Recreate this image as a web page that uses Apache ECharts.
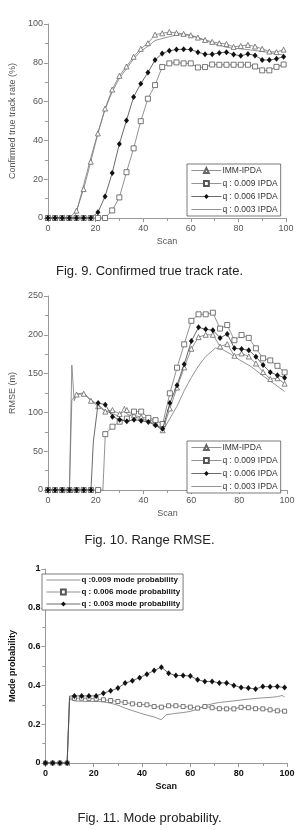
<!DOCTYPE html>
<html>
<head>
<meta charset="utf-8">
<script src="https://cdn.jsdelivr.net/npm/echarts@6/dist/echarts.min.js"></script>
<style>
  html, body { margin: 0; padding: 0; background: #fff; }
  #chart { width: 299px; height: 830px; }
</style>
</head>
<body>
<div id="chart"></div>
<script>
// Fig. 9 - confirmed true track rate (%), [scan, value]
const trackImm = [[0,0],[3,0],[6,0],[9,0],[12,3.8],[15,14.9],[18,29],[21,43.6],[24,56.4],[27,66.2],[30,73.3],[33,78.1],[36,83.1],[39,87.2],[42,90.1],[45,94.5],[48,95.2],[51,95.9],[54,95.4],[57,94.9],[60,94.2],[63,93.0],[66,91.8],[69,90.8],[72,90.1],[75,89.7],[78,88.2],[81,88.7],[84,89.2],[87,88.4],[90,87.2],[93,85.8],[96,85.5],[99,86.8]]
const trackQ009 = [[0,0],[3,0],[6,0],[9,0],[12,0],[15,0],[18,0],[21,0],[24,0],[27,3.9],[30,10.6],[33,23.6],[36,35.9],[39,49.9],[42,61.5],[45,68.5],[48,77.8],[51,79.7],[54,80.2],[57,79.7],[60,79.7],[63,77.6],[66,77.8],[69,79.1],[72,79.0],[75,79.0],[78,79.0],[81,79.0],[84,79.0],[87,78.1],[90,76.1],[93,76.1],[96,77.9],[99,79.1]]
const trackQ006 = [[0,0],[3,0],[6,0],[9,0],[12,0],[15,0],[18,0],[21,2.9],[24,11.1],[27,23.2],[30,38.1],[33,50.3],[36,62.4],[39,69.2],[42,75.0],[45,81.4],[48,84.8],[51,86.2],[54,86.8],[57,87.0],[60,86.8],[63,85.5],[66,84.4],[69,84.4],[72,85.1],[75,85.5],[78,84.3],[81,83.6],[84,84.6],[87,83.8],[90,81.5],[93,81.4],[96,82.1],[99,83.1]]
const trackQ003 = [[0,0],[9,0],[11,0],[12,3],[15,17],[18,31],[21,44],[24,56],[27,65],[30,72],[33,77],[36,82],[39,86],[42,88.5],[45,91.5],[48,92.5],[51,93.5],[54,94.3],[57,94.5],[60,94],[63,92.8],[66,91.5],[69,90.2],[72,89],[75,88],[78,87.5],[81,87.2],[84,86.8],[87,86.3],[90,85.8],[93,85.3],[96,84.6],[99,84]]

// Fig. 10 - range RMSE (m)
const rmseImm = [[0,0],[3,0],[6,0],[9,0],[10,116],[12,123],[15,124],[18,115],[21,108],[24,101],[27,103],[30,98],[33,103],[36,96],[39,94],[42,92],[45,86],[48,77],[51,105],[54,132],[57,158],[60,182],[63,197],[66,200],[69,200],[72,185],[75,188],[78,173],[81,176],[84,172],[87,163],[90,152],[93,143],[96,144],[99,137]]
const rmseQ009 = [[0,0],[3,0],[6,0],[9,0],[12,0],[15,0],[18,0],[21,0],[23,0],[24,72],[27,81.6],[30,88],[33,92],[36,101],[39,101],[42,93],[45,90],[48,85],[51,124.6],[54,157.6],[57,187.7],[60,218],[63,226.4],[66,226.4],[69,228.5],[72,208],[75,212.6],[78,193],[81,199.7],[84,196],[87,182.6],[90,169.7],[93,167],[96,160],[99,151.6]]
const rmseQ006 = [[0,0],[3,0],[6,0],[9,0],[12,0],[15,0],[18,0],[19,62],[21,112],[24,110],[27,94.5],[30,90.6],[33,88.5],[36,90.6],[39,89.3],[42,87.6],[45,83.3],[48,79],[51,112],[54,135],[57,162],[60,192],[63,209.6],[66,207],[69,206],[72,196],[75,201],[78,182.6],[81,181.7],[84,180],[87,171.8],[90,161],[93,151.6],[96,148],[99,144.7]]
const rmseQ003 = [[0,0],[9,0],[10,161],[11,115],[12,124],[15,125],[18,116],[21,110],[24,102],[27,98],[30,95],[32,108],[33,98],[36,94],[39,92],[42,89],[45,84],[48,76],[51,92],[54,108],[57,128],[60,145],[63,160],[66,172],[69,180],[70,183],[73,181],[76,176],[80,168],[85,159],[90,147],[95,136],[99,127]]

// Fig. 11 - mode probability
const modeQ009 = [[0,0],[9,0],[10,0.33],[12,0.32],[15,0.318],[18,0.317],[21,0.317],[24,0.316],[27,0.308],[30,0.298],[33,0.283],[36,0.27],[39,0.258],[42,0.247],[45,0.237],[48,0.223],[50,0.249],[54,0.256],[57,0.26],[60,0.266],[63,0.278],[66,0.295],[69,0.305],[72,0.312],[75,0.316],[78,0.32],[81,0.325],[84,0.329],[87,0.333],[90,0.336],[93,0.338],[96,0.342],[98,0.348],[99,0.34]]
const modeQ006 = [[0,0],[3,0],[6,0],[9,0],[10,0.335],[12,0.334],[15,0.334],[18,0.333],[21,0.33],[24,0.326],[27,0.322],[30,0.317],[33,0.312],[36,0.305],[39,0.302],[42,0.3],[45,0.291],[48,0.288],[51,0.295],[54,0.295],[57,0.291],[60,0.288],[63,0.283],[66,0.291],[69,0.285],[72,0.28],[75,0.279],[78,0.279],[81,0.287],[84,0.285],[87,0.28],[90,0.279],[93,0.274],[96,0.269],[99,0.267]]
const modeQ003 = [[0,0],[3,0],[6,0],[9,0],[10,0.345],[12,0.346],[15,0.346],[18,0.346],[21,0.346],[24,0.36],[27,0.372],[30,0.386],[33,0.412],[36,0.424],[39,0.44],[42,0.458],[45,0.477],[48,0.494],[51,0.463],[54,0.451],[57,0.451],[60,0.448],[63,0.429],[66,0.42],[69,0.42],[72,0.413],[75,0.413],[78,0.40],[81,0.389],[84,0.386],[87,0.382],[90,0.394],[93,0.393],[96,0.394],[99,0.389]]

const legendTrack = ['IMM-IPDA', 'q : 0.009 IPDA', 'q : 0.006 IPDA', 'q : 0.003 IPDA']
const legendMode = ['q :0.009 mode probability', 'q : 0.006 mode probability', 'q : 0.003 mode probability']
const captions = ['Fig. 9. Confirmed true track rate.', 'Fig. 10. Range RMSE.', 'Fig. 11. Mode probability.']

// markers only every third scan (Origin style marker skip)
function pts(arr) {
  return arr.map(([x, y]) => (x % 3 === 0 ? [x, y] : { value: [x, y], symbol: 'none' }))
}

const FONT = '"Liberation Sans", Arial, sans-serif'
const NARROW = '"Liberation Sans Narrow", "Liberation Sans", Arial, sans-serif'
const grey = '#555'

function triSeries(name, data, idx) {
  return {
    name, type: 'line', xAxisIndex: idx, yAxisIndex: idx, data: pts(data),
    symbol: 'triangle', symbolSize: 5, z: 3,
    lineStyle: { color: '#777', width: 0.8 },
    itemStyle: { color: '#fff', borderColor: '#666', borderWidth: 0.8 },
  }
}
function sqSeries(name, data, idx, size) {
  return {
    name, type: 'line', xAxisIndex: idx, yAxisIndex: idx, data: pts(data),
    symbol: 'rect', symbolSize: size || 5, z: 3,
    lineStyle: { color: '#777', width: 0.8 },
    itemStyle: { color: '#fff', borderColor: '#555', borderWidth: 0.8 },
  }
}
function diaSeries(name, data, idx) {
  return {
    name, type: 'line', xAxisIndex: idx, yAxisIndex: idx, data: pts(data),
    symbol: 'diamond', symbolSize: [5, 6], z: 5,
    lineStyle: { color: '#444', width: 0.8 },
    itemStyle: { color: '#111' },
  }
}
// plain line: transparent item colour so the legend shows only the stroke
function plainSeries(name, data, idx) {
  return {
    name, type: 'line', xAxisIndex: idx, yAxisIndex: idx, data,
    symbol: 'none', z: 2,
    lineStyle: { color: '#777', width: 0.8 },
    itemStyle: { color: 'rgba(0,0,0,0)', borderWidth: 0 },
  }
}

function xAxis(idx, bold) {
  const c = bold ? '#111' : grey
  const w = bold ? 'bold' : 'normal'
  return {
    type: 'value', gridIndex: idx, min: 0, max: 100, interval: 20,
    name: 'Scan', nameLocation: 'middle', nameGap: 19,
    nameTextStyle: { fontFamily: FONT, fontSize: 9, color: c, fontWeight: w },
    axisLine: { lineStyle: { color: '#999', width: 1 } },
    axisTick: { length: 4, lineStyle: { color: '#999' } },
    minorTick: { show: true, splitNumber: 2, length: 3, lineStyle: { color: '#999' } },
    axisLabel: { fontFamily: FONT, fontSize: 9, color: c, fontWeight: w, margin: 6 },
    splitLine: { show: false },
  }
}
function yAxis(idx, name, max, interval, gap, bold) {
  const c = bold ? '#111' : grey
  const w = bold ? 'bold' : 'normal'
  return {
    type: 'value', gridIndex: idx, min: 0, max, interval,
    name, nameLocation: 'middle', nameGap: gap,
    nameTextStyle: { fontFamily: FONT, fontSize: 9, color: c, fontWeight: w },
    axisLine: { show: true, lineStyle: { color: '#999', width: 1 } },
    axisTick: { show: true, length: 4, lineStyle: { color: '#999' } },
    minorTick: { show: true, splitNumber: 2, length: 3, lineStyle: { color: '#999' } },
    axisLabel: { fontFamily: FONT, fontSize: 9, color: c, fontWeight: w, margin: 5 },
    splitLine: { show: false },
  }
}
function legendBox(names, left, top, bold, w) {
  return {
    data: names, orient: 'vertical', left, top,
    itemWidth: w, itemHeight: 6, itemGap: 4,
    padding: [2, 3, 2, 4],
    borderColor: '#444', borderWidth: 0.7, backgroundColor: '#fff',
    selectedMode: false,
    lineStyle: { width: 0.8 },
    textStyle: {
      fontFamily: bold ? NARROW : FONT, fontSize: bold ? 8 : 8.5,
      color: bold ? '#111' : '#333', fontWeight: bold ? 'bold' : 'normal',
      padding: [0, 0, 0, -4],
    },
  }
}

const chart = echarts.init(document.getElementById('chart'), null, { renderer: 'canvas' })
chart.setOption({
  animation: false,
  backgroundColor: '#fff',
  title: captions.map((t, i) => ({
    text: t, left: 'center', top: [260, 529, 807][i],
    textStyle: { fontFamily: FONT, fontSize: 13, fontWeight: 'normal', color: '#222' },
  })),
  grid: [
    { left: 34, top: 24, width: 252, height: 194 },
    { left: 34, top: 296, width: 253, height: 194 },
    { left: 29, top: 569, width: 258, height: 194 },
  ],
  xAxis: [xAxis(0), xAxis(1), xAxis(2, true)],
  yAxis: [
    yAxis(0, 'Confirmed true track rate (%)', 100, 20, 25),
    yAxis(1, 'RMSE (m)', 250, 50, 25),
    yAxis(2, 'Mode probability', 1, 0.2, 24, true),
  ],
  legend: [
    legendBox(legendTrack, 187, 164, false, 30),
    legendBox(legendTrack, 187, 441, false, 30),
    legendBox(legendMode, 42, 574, true, 34),
  ],
  series: [
    triSeries(legendTrack[0], trackImm, 0),
    sqSeries(legendTrack[1], trackQ009, 0),
    diaSeries(legendTrack[2], trackQ006, 0),
    plainSeries(legendTrack[3], trackQ003, 0),
    triSeries(legendTrack[0], rmseImm, 1),
    sqSeries(legendTrack[1], rmseQ009, 1),
    diaSeries(legendTrack[2], rmseQ006, 1),
    plainSeries(legendTrack[3], rmseQ003, 1),
    plainSeries(legendMode[0], modeQ009, 2),
    sqSeries(legendMode[1], modeQ006, 2, 4),
    diaSeries(legendMode[2], modeQ003, 2),
  ],
})
</script>
</body>
</html>
